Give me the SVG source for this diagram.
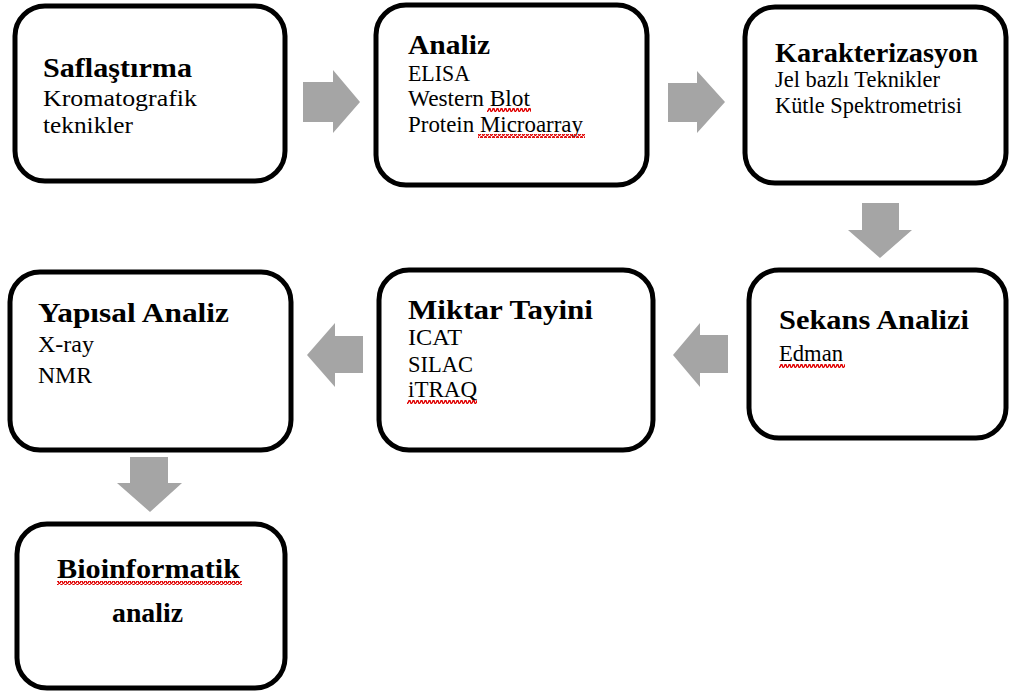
<svg xmlns="http://www.w3.org/2000/svg" width="1010" height="696" viewBox="0 0 1010 696">
<style>
.box{fill:#fff;stroke:#000;stroke-width:5}
.h{font-family:"Liberation Serif","Times New Roman",serif;font-weight:bold;font-size:27px;fill:#000}
.t{font-family:"Liberation Serif","Times New Roman",serif;font-size:23px;fill:#000}
.arr{fill:#a5a5a5}
.wv{fill:url(#wave)}
</style>
<defs>
<pattern id="wave" width="4" height="4" patternUnits="userSpaceOnUse">
<path d="M0,3.3 L1,0.8 L2,0.8 L3,3.3 L4,3.3" fill="none" stroke="#e00000" stroke-width="1.4"/>
</pattern>
</defs>
<rect width="1010" height="696" fill="#fff"/>
<g id="connectors">
<path class="arr" d="M303,82 H333 V70 L360,102 L333,133 V122 H303 Z"/>
<path class="arr" d="M668,83 H697 V71 L725,102 L697,133 V122 H668 Z"/>
<path class="arr" d="M862,203 H899 V230 H912 L880,258 L848,230 H862 Z"/>
<path class="arr" d="M728,335 V373 H700 V387 L673,355 L700,323 V335 Z"/>
<path class="arr" d="M363,336 V373 H335 V387 L307,355 L335,323 V336 Z"/>
<path class="arr" d="M130,457 H168 V483 H182 L150,512 L117,483 H130 Z"/>
</g>
<g id="saflastirma">
<rect class="box" x="15" y="6" width="270" height="175" rx="30"/>
<text class="h" x="43" y="77" textLength="149" lengthAdjust="spacingAndGlyphs">Saflaştırma</text>
<text class="t" x="43" y="106" textLength="154" lengthAdjust="spacingAndGlyphs">Kromatografik</text>
<text class="t" x="43" y="133" textLength="90" lengthAdjust="spacingAndGlyphs">teknikler</text>
</g>
<g id="analiz">
<rect class="box" x="376" y="5" width="271" height="180" rx="30"/>
<text class="h" x="408" y="54" textLength="82" lengthAdjust="spacingAndGlyphs">Analiz</text>
<text class="t" x="408" y="81" textLength="62" lengthAdjust="spacingAndGlyphs">ELISA</text>
<text class="t" x="408" y="106" textLength="122" lengthAdjust="spacingAndGlyphs">Western Blot</text>
<text class="t" x="408" y="132" textLength="175" lengthAdjust="spacingAndGlyphs">Protein Microarray</text>
<rect class="wv" x="487" y="108" width="44" height="4"/>
<rect class="wv" x="478" y="134" width="107" height="4"/>
</g>
<g id="karakterizasyon">
<rect class="box" x="745" y="7" width="261" height="176" rx="30"/>
<text class="h" x="775" y="62" textLength="203" lengthAdjust="spacingAndGlyphs">Karakterizasyon</text>
<text class="t" x="775" y="87" textLength="165" lengthAdjust="spacingAndGlyphs">Jel bazlı Teknikler</text>
<text class="t" x="775" y="113" textLength="187" lengthAdjust="spacingAndGlyphs">Kütle Spektrometrisi</text>
</g>
<g id="sekans-analizi">
<rect class="box" x="749" y="270" width="257" height="168" rx="30"/>
<text class="h" x="779" y="329" textLength="190" lengthAdjust="spacingAndGlyphs">Sekans Analizi</text>
<text class="t" x="779" y="361" textLength="64" lengthAdjust="spacingAndGlyphs">Edman</text>
<rect class="wv" x="779" y="364" width="66" height="4"/>
</g>
<g id="miktar-tayini">
<rect class="box" x="379" y="270" width="274" height="180" rx="30"/>
<text class="h" x="408" y="319" textLength="185" lengthAdjust="spacingAndGlyphs">Miktar Tayini</text>
<text class="t" x="408" y="345" textLength="54" lengthAdjust="spacingAndGlyphs">ICAT</text>
<text class="t" x="408" y="372" textLength="65" lengthAdjust="spacingAndGlyphs">SILAC</text>
<text class="t" x="408" y="397" textLength="69" lengthAdjust="spacingAndGlyphs">iTRAQ</text>
<rect class="wv" x="407" y="400" width="70" height="4"/>
</g>
<g id="yapisal-analiz">
<rect class="box" x="10" y="272" width="281" height="178" rx="30"/>
<text class="h" x="38" y="322" textLength="191" lengthAdjust="spacingAndGlyphs">Yapısal Analiz</text>
<text class="t" x="38" y="352" textLength="56" lengthAdjust="spacingAndGlyphs">X-ray</text>
<text class="t" x="38" y="383" textLength="54" lengthAdjust="spacingAndGlyphs">NMR</text>
</g>
<g id="bioinformatik-analiz">
<rect class="box" x="17" y="524" width="268" height="164" rx="30"/>
<text class="h" x="57" y="578" textLength="183" lengthAdjust="spacingAndGlyphs">Bioinformatik</text>
<text class="h" x="112" y="622" textLength="71" lengthAdjust="spacingAndGlyphs">analiz</text>
<rect class="wv" x="57" y="581" width="185" height="4"/>
</g>
</svg>
